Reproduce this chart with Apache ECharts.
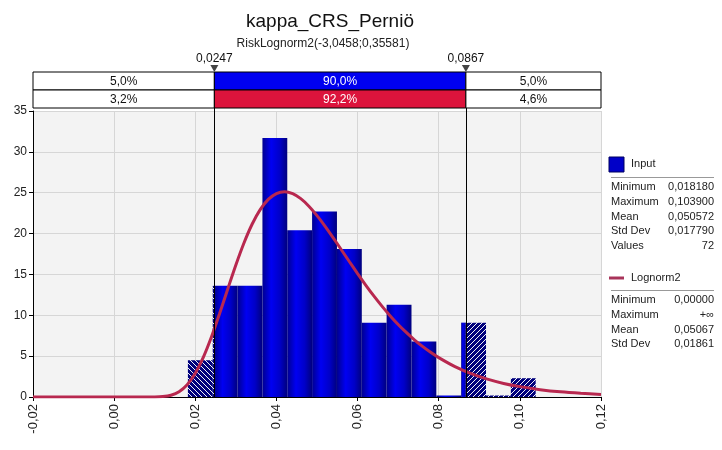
<!DOCTYPE html>
<html>
<head>
<meta charset="utf-8">
<script src="https://cdn.jsdelivr.net/npm/echarts@6/dist/echarts.min.js"></script>
<style>
  html, body { margin: 0; padding: 0; background: #fff; }
  #chart { width: 722px; height: 450px; }
</style>
</head>
<body>
<div id="chart"></div>
<script>
// histogram bins (density)
var binEdges = [0.01818, 0.02430, 0.03043, 0.03655, 0.04267, 0.04879, 0.05492, 0.06104,
                0.06716, 0.07329, 0.07941, 0.08553, 0.09166, 0.09778, 0.10390];
var binHeights = [4.5, 13.6, 13.6, 31.7, 20.4, 22.7, 18.1, 9.1, 11.3, 6.8, 0, 9.1, 0, 2.3];

// fitted Lognorm2 curve
var curveX = [-0.02, 0.0, 0.01, 0.012, 0.014, 0.016, 0.018, 0.020, 0.022, 0.024, 0.026, 0.028,
              0.030, 0.032, 0.034, 0.036, 0.038, 0.040, 0.042, 0.044, 0.046, 0.048, 0.050,
              0.052, 0.054, 0.056, 0.058, 0.060, 0.062, 0.064, 0.066, 0.068, 0.070, 0.072,
              0.074, 0.076, 0.078, 0.080, 0.084, 0.088, 0.092, 0.096, 0.100, 0.105, 0.110,
              0.115, 0.120];
var curveY = [0, 0, 0.01, 0.05, 0.22, 0.65, 1.50, 2.90, 4.88, 7.37, 10.21, 13.22,
              16.16, 18.85, 21.14, 22.93, 24.18, 24.90, 25.12, 24.88, 24.27, 23.35, 22.20,
              20.89, 19.48, 18.02, 16.55, 15.10, 13.70, 12.37, 11.12, 9.95, 8.88, 7.90,
              7.00, 6.19, 5.47, 4.82, 3.72, 2.86, 2.18, 1.66, 1.27, 0.90, 0.63,
              0.45, 0.32];

// percentile markers and the two band rows
var cutValues = [0.0247, 0.0867];
var cutLabels = ['0,0247', '0,0867'];
var bandEdges = [-0.02, 0.0247, 0.0867, 0.12];
var bandInput = ['5,0%', '90,0%', '5,0%'];
var bandFit = ['3,2%', '92,2%', '4,6%'];

// legend stats
var inputStats = [['Minimum', '0,018180'], ['Maximum', '0,103900'], ['Mean', '0,050572'],
                  ['Std Dev', '0,017790'], ['Values', '72']];
var fitStats = [['Minimum', '0,00000'], ['Maximum', '+\u221e'], ['Mean', '0,05067'],
                ['Std Dev', '0,01861']];

var FONT = 'Liberation Sans';

// hatch pattern for the tails
function hatch(forward) {
  var c = document.createElement('canvas');
  c.width = 5; c.height = 5;
  var ctx = c.getContext('2d');
  ctx.fillStyle = '#00007c';
  ctx.fillRect(0, 0, 5, 5);
  ctx.strokeStyle = 'rgba(255,255,255,0.95)';
  ctx.lineWidth = 1;
  ctx.beginPath();
  if (forward) {
    ctx.moveTo(-1, 6); ctx.lineTo(6, -1);
    ctx.moveTo(-1, 1); ctx.lineTo(1, -1);
    ctx.moveTo(4, 6); ctx.lineTo(6, 4);
  } else {
    ctx.moveTo(-1, -1); ctx.lineTo(6, 6);
    ctx.moveTo(4, -1); ctx.lineTo(6, 1);
    ctx.moveTo(-1, 4); ctx.lineTo(1, 6);
  }
  ctx.stroke();
  return c;
}
var hatchBack = hatch(false);
var hatchFwd = hatch(true);

// split bins at the percentile cuts: [x0, x1, h, kind] kind 0 solid, 1 left tail, 2 right tail
var segments = [];
for (var i = 0; i < binHeights.length; i++) {
  var a = binEdges[i], b = binEdges[i + 1], h = binHeights[i];
  var pts = [a];
  cutValues.forEach(function (c) { if (c > a && c < b) pts.push(c); });
  pts.push(b);
  for (var k = 0; k < pts.length - 1; k++) {
    var mid = (pts[k] + pts[k + 1]) / 2;
    var kind = mid < cutValues[0] ? 1 : (mid > cutValues[1] ? 2 : 0);
    segments.push([pts[k], pts[k + 1], h, kind]);
  }
}

var bandData = [];
for (var j = 0; j < 3; j++) {
  bandData.push([bandEdges[j], bandEdges[j + 1], 0, j]);
  bandData.push([bandEdges[j], bandEdges[j + 1], 1, j]);
}

var chart = echarts.init(document.getElementById('chart'));

var graphics = [];
graphics.push({ type: 'rect', shape: { x: 609, y: 157, width: 15, height: 15 },
  style: { fill: '#0000c8', stroke: '#000060', lineWidth: 1 } });
graphics.push({ type: 'text', x: 631, y: 164,
  style: { text: 'Input', font: '11px ' + FONT, fill: '#222', verticalAlign: 'middle' } });
graphics.push({ type: 'line', shape: { x1: 611, y1: 177.5, x2: 714, y2: 177.5 },
  style: { stroke: '#999', lineWidth: 1 } });
inputStats.forEach(function (r, n) {
  var y = 187 + n * 14.8;
  graphics.push({ type: 'text', x: 611, y: y,
    style: { text: r[0], font: '11px ' + FONT, fill: '#222', verticalAlign: 'middle' } });
  graphics.push({ type: 'text', x: 714, y: y,
    style: { text: r[1], font: '11px ' + FONT, fill: '#222', verticalAlign: 'middle', align: 'right' } });
});
graphics.push({ type: 'line', shape: { x1: 609, y1: 278, x2: 624, y2: 278 },
  style: { stroke: '#a8345a', lineWidth: 3 } });
graphics.push({ type: 'text', x: 631, y: 278,
  style: { text: 'Lognorm2', font: '11px ' + FONT, fill: '#222', verticalAlign: 'middle' } });
graphics.push({ type: 'line', shape: { x1: 611, y1: 290.5, x2: 714, y2: 290.5 },
  style: { stroke: '#999', lineWidth: 1 } });
fitStats.forEach(function (r, n) {
  var y = 300 + n * 14.8;
  graphics.push({ type: 'text', x: 611, y: y,
    style: { text: r[0], font: '11px ' + FONT, fill: '#222', verticalAlign: 'middle' } });
  graphics.push({ type: 'text', x: 714, y: y,
    style: { text: r[1], font: '11px ' + FONT, fill: '#222', verticalAlign: 'middle', align: 'right' } });
});

chart.setOption({
  animation: false,
  title: [
    { text: 'kappa_CRS_Perni\u00f6', left: 325, top: 7, textAlign: 'center',
      textStyle: { fontFamily: FONT, fontSize: 19, fontWeight: 'normal', color: '#111' } },
    { text: 'RiskLognorm2(-3,0458;0,35581)', left: 318, top: 33, textAlign: 'center',
      textStyle: { fontFamily: FONT, fontSize: 12, fontWeight: 'normal', color: '#222' } }
  ],
  grid: [
    { left: 33, right: 121, top: 111, bottom: 53, show: true, backgroundColor: '#f3f3f3', borderWidth: 0 },
    { left: 33, right: 121, top: 72, height: 36, show: false }
  ],
  xAxis: [
    { type: 'value', gridIndex: 0, min: -0.02, max: 0.12, interval: 0.02,
      axisLine: { onZero: false, lineStyle: { color: '#000' } },
      axisTick: { show: true, length: 4, lineStyle: { color: '#000' } },
      splitLine: { show: true, lineStyle: { color: '#d6d6d6' } },
      axisLabel: { rotate: 90, fontFamily: FONT, fontSize: 13, color: '#222', margin: 7,
        formatter: function (v) { return v.toFixed(2).replace('.', ','); } } },
    { type: 'value', gridIndex: 1, min: -0.02, max: 0.12, show: false }
  ],
  yAxis: [
    { type: 'value', gridIndex: 0, min: 0, max: 35, interval: 5,
      axisLine: { show: true, onZero: false, lineStyle: { color: '#000' } },
      axisTick: { show: true, length: 4, lineStyle: { color: '#000' } },
      splitLine: { show: true, lineStyle: { color: '#d6d6d6' } },
      axisLabel: { fontFamily: FONT, fontSize: 12, color: '#222', margin: 6 } },
    { type: 'value', gridIndex: 1, min: 0, max: 2, show: false }
  ],
  graphic: graphics,
  series: [
    {
      type: 'custom', xAxisIndex: 0, yAxisIndex: 0, data: segments, z: 2,
      renderItem: function (params, api) {
        var p0 = api.coord([api.value(0), api.value(2)]);
        var p1 = api.coord([api.value(1), 0]);
        var kind = api.value(3);
        var fill;
        if (kind === 1) fill = { image: hatchBack, repeat: 'repeat' };
        else if (kind === 2) fill = { image: hatchFwd, repeat: 'repeat' };
        else fill = new echarts.graphic.LinearGradient(0, 0, 1, 0, [
          { offset: 0, color: '#000090' }, { offset: 0.35, color: '#0000f2' },
          { offset: 0.7, color: '#0000c8' }, { offset: 1, color: '#00007e' }]);
        var h = Math.max(p1[1] - p0[1], 1.5);
        return { type: 'rect', shape: { x: p0[0], y: p1[1] - h, width: p1[0] - p0[0], height: h },
          style: { fill: fill } };
      }
    },
    {
      type: 'line', xAxisIndex: 0, yAxisIndex: 0, z: 3,
      data: curveX.map(function (x, n) { return [x, curveY[n]]; }),
      smooth: 0.3, showSymbol: false, symbol: 'none',
      lineStyle: { color: '#b8284f', width: 3 }
    },
    {
      // percentile lines through the plot
      type: 'custom', xAxisIndex: 0, yAxisIndex: 0, z: 4, clip: false,
      data: cutValues.map(function (v) { return [v, 0]; }),
      renderItem: function (params, api) {
        var pb = api.coord([api.value(0), 0]);
        var pt = api.coord([api.value(0), 35]);
        var x = Math.round(pb[0]) + 0.5;
        return { type: 'line', shape: { x1: x, y1: pb[1], x2: x, y2: pt[1] - 4 },
          style: { stroke: '#000', lineWidth: 1 } };
      }
    },
    {
      type: 'custom', xAxisIndex: 1, yAxisIndex: 1, data: bandData, z: 4, clip: false,
      renderItem: function (params, api) {
        var row = api.value(2);
        var col = api.value(3);
        var p0 = api.coord([api.value(0), 2 - row]);
        var p1 = api.coord([api.value(1), 1 - row]);
        var mid = col === 1;
        var fill = mid ? (row === 0 ? '#0000f0' : '#dc143c') : '#fff';
        var label = row === 0 ? bandInput[col] : bandFit[col];
        return { type: 'group', children: [
          { type: 'rect', shape: { x: p0[0], y: p0[1], width: p1[0] - p0[0], height: p1[1] - p0[1] },
            style: { fill: fill, stroke: '#000', lineWidth: 1 } },
          { type: 'text', x: (p0[0] + p1[0]) / 2, y: (p0[1] + p1[1]) / 2 + 1,
            style: { text: label, fill: mid ? '#fff' : '#111', font: '12px ' + FONT,
              align: 'center', verticalAlign: 'middle' } }
        ] };
      }
    },
    {
      type: 'custom', xAxisIndex: 1, yAxisIndex: 1, z: 5, clip: false,
      data: cutValues.map(function (v) { return [v, 2]; }),
      renderItem: function (params, api) {
        var p = api.coord([api.value(0), 2]);
        return { type: 'group', children: [
          { type: 'polygon', shape: { points: [[p[0] - 4, p[1] - 7], [p[0] + 4, p[1] - 7], [p[0], p[1]]] },
            style: { fill: '#444' } },
          { type: 'text', x: p[0], y: p[1] - 13,
            style: { text: cutLabels[params.dataIndex], fill: '#111', font: '12px ' + FONT,
              align: 'center', verticalAlign: 'middle' } }
        ] };
      }
    }
  ]
});
</script>
</body>
</html>
